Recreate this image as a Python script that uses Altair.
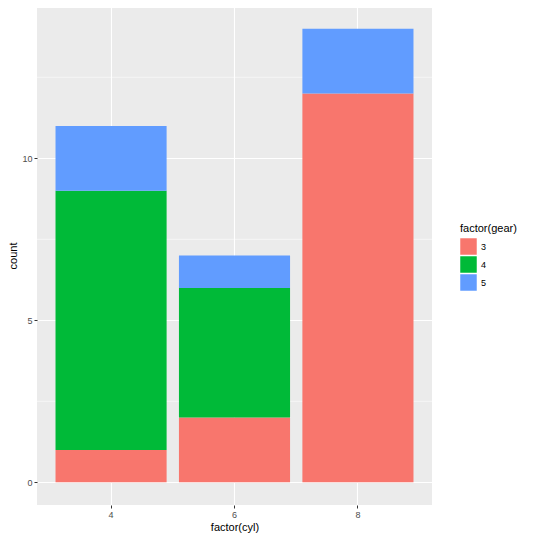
import pandas as pd
import altair as alt

# mtcars counts: cylinders x gears
cyl = ["4", "4", "4", "6", "6", "6", "8", "8"]
gear = ["3", "4", "5", "3", "4", "5", "3", "5"]
count = [1, 8, 2, 2, 4, 1, 12, 2]

gear_levels = ["3", "4", "5"]
gear_colors = ["#F8766D", "#00BA38", "#619CFF"]
minor_breaks = [2.5, 7.5, 12.5]

df = pd.DataFrame({"cyl": cyl, "gear": gear, "count": count})
df_minor = pd.DataFrame({"v": minor_breaks})

font = "Liberation Sans"
y_scale = alt.Scale(domain=[-0.7, 14.7], nice=False, zero=False)

# minor grid lines under the bars
minor = alt.Chart(df_minor).mark_rule(color="white", strokeWidth=0.55).encode(
    y=alt.Y("v:Q", scale=y_scale)
)

bars = alt.Chart(df).mark_bar().encode(
    x=alt.X(
        "cyl:N",
        title="factor(cyl)",
        scale=alt.Scale(paddingInner=0.1, paddingOuter=0.15),
        axis=alt.Axis(
            labelAngle=0, grid=True, bandPosition=0.5, gridColor="white",
            gridWidth=1.1, domain=False, tickSize=3, tickColor="#333333",
            labelColor="#4D4D4D", labelFontSize=9, labelPadding=2,
            titleFontSize=11, titleFontWeight="normal", titleColor="black",
            titlePadding=2,
        ),
    ),
    y=alt.Y(
        "sum(count):Q",
        title="count",
        stack="zero",
        scale=y_scale,
        axis=alt.Axis(
            values=[0, 5, 10], grid=True, gridColor="white", gridWidth=1.1,
            domain=False, tickSize=3, tickColor="#333333",
            labelColor="#4D4D4D", labelFontSize=9, labelPadding=2,
            titleFontSize=11, titleFontWeight="normal", titleColor="black",
            titlePadding=3,
        ),
    ),
    color=alt.Color(
        "gear:N",
        title="factor(gear)",
        scale=alt.Scale(domain=gear_levels, range=gear_colors),
        legend=alt.Legend(
            orient="none", legendX=423, legendY=217,
            symbolType="square", symbolSize=272, symbolStrokeWidth=0,
            rowPadding=1, labelOffset=4, labelFontSize=9,
            titleFontSize=11, titleFontWeight="normal", titlePadding=4,
        ),
    ),
    order=alt.Order("gear:N", sort="ascending"),
)

chart = alt.layer(minor, bars).properties(
    width=395,
    height=499,
    autosize=alt.AutoSizeParams(type="none"),
    padding={"left": 29, "top": -2, "right": 100, "bottom": 36},
).configure(
    font=font,
).configure_view(
    fill="#EBEBEB", stroke=None
)

chart.save("out.html", embed_options={"renderer": "svg", "actions": False})
